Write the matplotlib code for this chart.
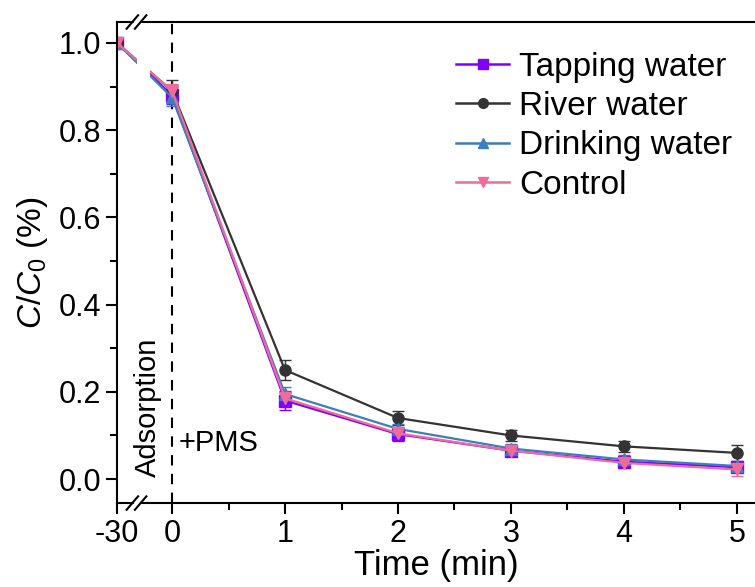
import numpy as np
import matplotlib
matplotlib.use("Agg")
import matplotlib.pyplot as plt
from matplotlib.lines import Line2D

plt.rcParams['font.family'] = ['Liberation Sans', 'DejaVu Sans']
plt.rcParams['mathtext.fontset'] = 'custom'
plt.rcParams['mathtext.it'] = 'Liberation Sans:italic'
plt.rcParams['mathtext.rm'] = 'Liberation Sans'

time = [-30, 0, 1, 2, 3, 4, 5]
tick_labels = ['-30', '0', '1', '2', '3', '4', '5']

tapping = [1.00, 0.880, 0.180, 0.103, 0.065, 0.040, 0.027]
tapping_err = [0.005, 0.020, 0.022, 0.015, 0.012, 0.010, 0.010]
river = [1.00, 0.890, 0.250, 0.140, 0.100, 0.075, 0.060]
river_err = [0.005, 0.025, 0.022, 0.015, 0.013, 0.012, 0.018]
drinking = [1.00, 0.875, 0.195, 0.115, 0.070, 0.045, 0.030]
drinking_err = [0.005, 0.020, 0.015, 0.012, 0.010, 0.010, 0.010]
control = [1.00, 0.890, 0.185, 0.105, 0.065, 0.037, 0.022]
control_err = [0.005, 0.015, 0.015, 0.012, 0.012, 0.012, 0.015]

series = [
    ('Tapping water', tapping, tapping_err, '#7F00FF', 's'),
    ('River water', river, river_err, '#333333', 'o'),
    ('Drinking water', drinking, drinking_err, '#3C7DBE', '^'),
    ('Control', control, control_err, '#F06A9A', 'v'),
]

# compressed scale for the adsorption segment (axis break)
K = 0.487 / 30.0
def fwd(x):
    x = np.asarray(x, dtype=float)
    return np.where(x < 0, x * K, x)
def inv(x):
    x = np.asarray(x, dtype=float)
    return np.where(x < 0, x / K, x)

fig = plt.figure(figsize=(7.55, 5.87), dpi=100)
ax = fig.add_axes([0.155, 0.143, 0.845, 0.8195])
ax.set_xscale('function', functions=(fwd, inv))

handles = []
for name, y, e, c, m in series:
    ax.errorbar(time, y, yerr=e, color=c, marker=m, markersize=8, lw=1.6,
                elinewidth=1.0, capsize=4, capthick=1.0, zorder=2)
    handles.append(Line2D([], [], color=c, marker=m, markersize=7, lw=1.8))

ax.set_xlim(-30, 5.16)
ax.set_ylim(-0.055, 1.048)

# break gap in the data lines
ax.axvspan(-19.0, -12.0, color='white', zorder=2.2, lw=0)

ax.axvline(0, color='black', ls=(0, (5, 4)), lw=1.5, zorder=1.5)

ax.set_xticks(time)
ax.set_xticklabels(tick_labels)
ax.set_xticks([0.5, 1.5, 2.5, 3.5, 4.5], minor=True)
ax.set_yticks([0.0, 0.2, 0.4, 0.6, 0.8, 1.0])
ax.set_yticklabels(['0.0', '0.2', '0.4', '0.6', '0.8', '1.0'])
ax.set_yticks([0.1, 0.3, 0.5, 0.7, 0.9], minor=True)
ax.tick_params(which='major', direction='out', length=8, width=1.5, labelsize=22)
ax.tick_params(which='minor', direction='out', length=5, width=1.5)
for s in ['left', 'bottom', 'top']:
    ax.spines[s].set_linewidth(1.5)
ax.spines['right'].set_visible(False)
ax.tick_params(top=False, right=False)

ax.set_xlabel('Time (min)', fontsize=25, labelpad=0)
ax.set_ylabel(r'$\mathit{C/C_0}$ (%)', fontsize=24, labelpad=6)

# axis break marks
trans = ax.transAxes
for yb in (0.0, 1.0):
    for dx in (-0.009, 0.004):
        x0 = 0.033 + dx
        ax.add_line(Line2D([x0 - 0.009, x0 + 0.009], [yb - 0.014, yb + 0.014],
                           transform=trans, color='black', lw=1.5, clip_on=False, zorder=5))
    ax.add_patch(plt.Rectangle((0.026, yb - 0.004), 0.01, 0.008, transform=trans,
                               color='white', clip_on=False, zorder=4.5))

ax.text(-13, 0.005, 'Adsorption', rotation=90, fontsize=21, ha='center', va='bottom', zorder=3)
ax.text(0.06, 0.083, '+PMS', fontsize=21, ha='left', va='center', zorder=3)

ax.legend(handles, [s[0] for s in series], loc='upper left',
          bbox_to_anchor=(0.5, 0.98), frameon=False, fontsize=24,
          handlelength=1.6, handletextpad=0.3, labelspacing=0.25, borderaxespad=0.2)

fig.savefig('out.png', dpi=100)
